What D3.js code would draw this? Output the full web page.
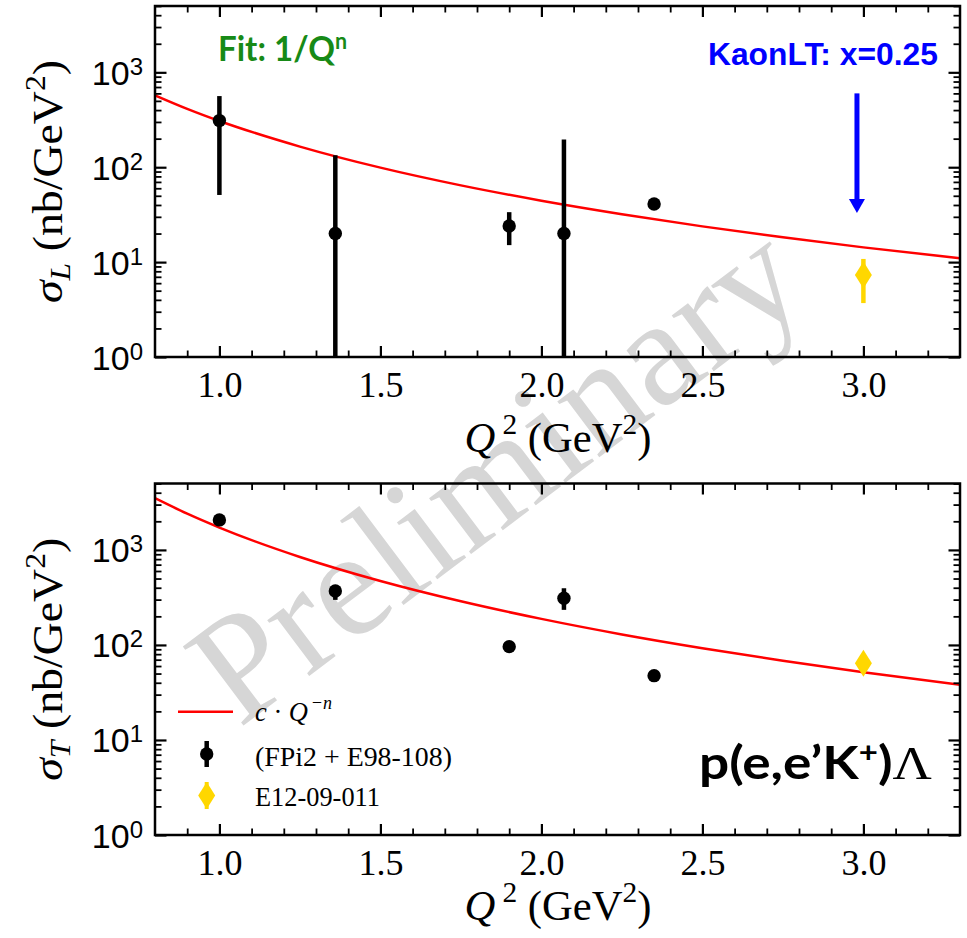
<!DOCTYPE html>
<html>
<head>
<meta charset="utf-8">
<script src="https://cdn.jsdelivr.net/npm/d3@7"></script>
<style>
  body { margin: 0; background: #fff; }
</style>
</head>
<body>
<div id="chart"></div>
<script>
// data

// FPi2 + E98-108 points (black)
var q2Old = [1.0, 1.36, 1.90, 2.07, 2.35];
var sigLOld = [310, 20, 24, 20, 41];
var sigLOldUp = [252, 114, 9.6, 176, 2];
var sigLOldDn = [259, 19.7, 8.9, 19.7, 2];
var sigTOld = [2070, 370, 96, 310, 47.5];
var sigTOldUp = [60, 58, 5, 85, 3];
var sigTOldDn = [60, 72, 5, 76, 3];

// E12-09-011 point (yellow)
var q2New = [3.0];
var sigLNew = [7.3];
var sigLNewUp = [3.5];
var sigLNewDn = [3.6];
var sigTNew = [64];
var sigTNewUp = [9];
var sigTNewDn = [8];

// fit curve c*Q^-n, read at a few Q2 values
var fitQ2 = [0.8, 0.9, 1.0, 1.25, 1.5, 1.75, 2.0, 2.25, 2.5, 2.75, 3.0, 3.3];
var fitL = [572, 412, 307, 165, 99, 64.4, 44.4, 32.0, 23.8, 18.3, 14.3, 11.0];
var fitT = [3500, 2404, 1718, 843, 471, 288, 188, 129, 92.4, 68.2, 51.7, 38.1];

// ticks
var xMajor = [1.0, 1.5, 2.0, 2.5, 3.0];
var xMinor = [0.9, 1.1, 1.2, 1.3, 1.4, 1.6, 1.7, 1.8, 1.9, 2.1, 2.2, 2.3, 2.4, 2.6, 2.7, 2.8, 2.9, 3.1, 3.2];
var yMajor = [1, 10, 100, 1000];
var yMinor = [];
[1, 10, 100, 1000].forEach(function (d) {
  for (var k = 2; k <= 9; k++) if (d * k <= 5000) yMinor.push(d * k);
});

var W = 967, H = 938;
var left = 155, right = 960;
var serif = "'Liberation Serif', 'Times New Roman', serif";
var sans = "'Liberation Sans', Arial, sans-serif";
var calib = "Lato, 'Open Sans', sans-serif";

var svg = d3.select("#chart").append("svg")
  .attr("width", W).attr("height", H);
svg.append("rect").attr("width", W).attr("height", H).attr("fill", "#fff");

var x = d3.scaleLinear().domain([0.8, 3.3]).range([left, right]);

// squeeze / stretch a text to a measured width
function fitWidth(t, w) {
  var bb = t.node().getBBox();
  t.attr("transform", "scale(" + (w / bb.width) + ",1)");
}

// watermark, behind everything
svg.append("text")
  .attr("transform", "translate(495,472) rotate(-37)")
  .attr("text-anchor", "middle")
  .attr("dominant-baseline", "central")
  .style("font-family", serif)
  .style("font-size", "152px")
  .attr("fill", "#d6d6d6")
  .text("Preliminary");

var panels = [
  { top: 6, bottom: 357, sub: "L", old: sigLOld, up: sigLOldUp, dn: sigLOldDn,
    nw: sigLNew, nwUp: sigLNewUp, nwDn: sigLNewDn, fit: fitL, xlab: 452 },
  { top: 483.5, bottom: 835, sub: "T", old: sigTOld, up: sigTOldUp, dn: sigTOldDn,
    nw: sigTNew, nwUp: sigTNewUp, nwDn: sigTNewDn, fit: fitT, xlab: 920 }
];

function diamond(cx, cy) {
  return "M" + cx + "," + (cy - 13.5) + "L" + (cx + 8.5) + "," + cy +
    "L" + cx + "," + (cy + 13.5) + "L" + (cx - 8.5) + "," + cy + "Z";
}

panels.forEach(function (p, i) {
  var y = d3.scaleLog().domain([1, 5000]).range([p.bottom, p.top]);
  var g = svg.append("g");

  g.append("clipPath").attr("id", "clip" + i)
    .append("rect")
    .attr("x", left).attr("y", p.top)
    .attr("width", right - left).attr("height", p.bottom - p.top);

  var plot = g.append("g").attr("clip-path", "url(#clip" + i + ")");

  // fit
  plot.append("path")
    .datum(d3.zip(fitQ2, p.fit))
    .attr("d", d3.line()
      .x(function (d) { return x(d[0]); })
      .y(function (d) { return y(d[1]); })
      .curve(d3.curveMonotoneX))
    .attr("fill", "none")
    .attr("stroke", "#ff0000")
    .attr("stroke-width", 2.5);

  // black points
  var idx = d3.range(q2Old.length);
  plot.selectAll(null).data(idx).join("line")
    .attr("x1", function (k) { return x(q2Old[k]); })
    .attr("x2", function (k) { return x(q2Old[k]); })
    .attr("y1", function (k) { return y(Math.max(p.old[k] - p.dn[k], 0.05)); })
    .attr("y2", function (k) { return y(p.old[k] + p.up[k]); })
    .attr("stroke", "#000")
    .attr("stroke-width", 4.5);
  plot.selectAll(null).data(idx).join("circle")
    .attr("cx", function (k) { return x(q2Old[k]); })
    .attr("cy", function (k) { return y(p.old[k]); })
    .attr("r", 6.7)
    .attr("fill", "#000");

  // yellow point
  var idn = d3.range(q2New.length);
  plot.selectAll(null).data(idn).join("line")
    .attr("x1", function (k) { return x(q2New[k]); })
    .attr("x2", function (k) { return x(q2New[k]); })
    .attr("y1", function (k) { return y(p.nw[k] - p.nwDn[k]); })
    .attr("y2", function (k) { return y(p.nw[k] + p.nwUp[k]); })
    .attr("stroke", "#ffd700")
    .attr("stroke-width", 4.5);
  plot.selectAll(null).data(idn).join("path")
    .attr("d", function (k) { return diamond(x(q2New[k]), y(p.nw[k])); })
    .attr("fill", "#ffd700");

  // ticks, inward on all four sides
  function tickStyle(a, w) {
    a.select(".domain").remove();
    a.selectAll(".tick line").attr("stroke", "#000").attr("stroke-width", w);
  }
  g.append("g").attr("transform", "translate(0," + p.bottom + ")")
    .call(d3.axisBottom(x).tickValues(xMinor).tickSize(-6.5).tickFormat(""))
    .call(tickStyle, 1.8);
  g.append("g").attr("transform", "translate(0," + p.top + ")")
    .call(d3.axisTop(x).tickValues(xMinor).tickSize(-6.5).tickFormat(""))
    .call(tickStyle, 1.8);
  g.append("g").attr("transform", "translate(0," + p.top + ")")
    .call(d3.axisTop(x).tickValues(xMajor).tickSize(-11).tickFormat(""))
    .call(tickStyle, 2.2);
  var xb = g.append("g").attr("transform", "translate(0," + p.bottom + ")")
    .call(d3.axisBottom(x).tickValues(xMajor).tickSize(-11).tickPadding(14)
      .tickFormat(d3.format(".1f")))
    .call(tickStyle, 2.2);
  xb.attr("font-family", null).attr("font-size", null);
  xb.selectAll(".tick text")
    .style("font-family", serif).style("font-size", "36px").attr("fill", "#000");

  [[d3.axisLeft, left, 1], [d3.axisRight, right, -1]].forEach(function (s) {
    g.append("g").attr("transform", "translate(" + s[1] + ",0)")
      .call(s[0](y).tickValues(yMinor).tickSize(-6.5).tickFormat(""))
      .call(tickStyle, 1.8);
    g.append("g").attr("transform", "translate(" + s[1] + ",0)")
      .call(s[0](y).tickValues(yMajor).tickSize(-11.5).tickFormat(""))
      .call(tickStyle, 2.2);
  });

  // y tick labels 10^k
  yMajor.forEach(function (v) {
    var t = g.append("text")
      .attr("x", 143).attr("y", y(v) + 12.5)
      .attr("text-anchor", "end")
      .style("font-family", sans).style("font-size", "34px");
    t.append("tspan").text("10");
    t.append("tspan").attr("dy", -10).style("font-size", "24px")
      .text(Math.round(Math.log10(v)));
  });

  // frame
  g.append("rect")
    .attr("x", left).attr("y", p.top)
    .attr("width", right - left).attr("height", p.bottom - p.top)
    .attr("fill", "none").attr("stroke", "#000").attr("stroke-width", 2.5);

  // x label
  var xl = g.append("g").attr("transform", "translate(558," + p.xlab + ")")
    .append("text").attr("text-anchor", "middle")
    .style("font-family", serif).style("font-size", "42px");
  xl.append("tspan").style("font-style", "italic").text("Q");
  xl.append("tspan").attr("dx", 7).attr("dy", -18).style("font-size", "29px").text("2");
  xl.append("tspan").attr("dy", 18).text(" (GeV");
  xl.append("tspan").attr("dy", -18).style("font-size", "29px").text("2");
  xl.append("tspan").attr("dy", 18).text(")");
  fitWidth(xl, 187);

  // y label
  var yl = g.append("g")
    .attr("transform", "translate(62," + ((p.top + p.bottom) / 2) + ") rotate(-90)")
    .append("text").attr("text-anchor", "middle")
    .style("font-family", serif).style("font-size", "42px");
  yl.append("tspan").style("font-style", "italic").text("σ");
  yl.append("tspan").style("font-style", "italic").style("font-size", "29px")
    .attr("dy", 8).text(p.sub);
  yl.append("tspan").attr("dy", -8).text(" (nb/GeV");
  yl.append("tspan").attr("dy", -17).style("font-size", "29px").text("2");
  yl.append("tspan").attr("dy", 17).text(")");
  fitWidth(yl, 243);

  p.y = y;
});

// annotations, top panel
var yL = panels[0].y;
var fitTxt = svg.append("g").attr("transform", "translate(218,61)")
  .append("text")
  .style("font-family", calib).style("font-weight", "bold").style("font-size", "34px")
  .attr("fill", "#178a17");
fitTxt.append("tspan").text("Fit: 1/Q");
fitTxt.append("tspan").attr("dy", -12).style("font-size", "22px").text("n");
fitWidth(fitTxt, 129);

var kaon = svg.append("g").attr("transform", "translate(708,65)")
  .append("text")
  .style("font-family", sans).style("font-weight", "bold").style("font-size", "31px")
  .attr("fill", "#0000ff")
  .text("KaonLT: x=0.25");
fitWidth(kaon, 230);

var ax = x(2.98);
svg.append("line")
  .attr("x1", ax).attr("x2", ax)
  .attr("y1", yL(600)).attr("y2", yL(33) - 12)
  .attr("stroke", "#0000ff").attr("stroke-width", 5);
svg.append("path")
  .attr("d", "M" + (ax - 8) + "," + (yL(33) - 14) + "L" + (ax + 8) + "," + (yL(33) - 14) +
    "L" + ax + "," + yL(33) + "Z")
  .attr("fill", "#0000ff");

// reaction label, bottom panel
var react = svg.append("g").attr("transform", "translate(699,779)")
  .append("text")
  .style("font-family", calib).style("font-weight", "bold").style("font-size", "45px")
  .attr("fill", "#000");
react.append("tspan").text("p(e,e’K");
react.append("tspan").attr("dy", -17).style("font-size", "28px").text("+");
react.append("tspan").attr("dy", 17).text(")");
react.append("tspan").style("font-family", serif).style("font-weight", "normal")
  .style("font-size", "46px").text("Λ");
fitWidth(react, 233);

// legend
var lg = svg.append("g");
lg.append("line")
  .attr("x1", 178).attr("x2", 233).attr("y1", 711.7).attr("y2", 711.7)
  .attr("stroke", "#ff0000").attr("stroke-width", 2.5);
lg.append("line")
  .attr("x1", 206.7).attr("x2", 206.7).attr("y1", 741).attr("y2", 767)
  .attr("stroke", "#000").attr("stroke-width", 4.5);
lg.append("circle").attr("cx", 206.7).attr("cy", 754).attr("r", 6.7).attr("fill", "#000");
lg.append("line")
  .attr("x1", 206.7).attr("x2", 206.7).attr("y1", 782).attr("y2", 809)
  .attr("stroke", "#ffd700").attr("stroke-width", 4);
lg.append("path").attr("d", diamond(206.7, 795.5)).attr("fill", "#ffd700");

var l1 = lg.append("g").attr("transform", "translate(255,721)")
  .append("text").style("font-family", serif).style("font-size", "28px");
l1.append("tspan").style("font-style", "italic").text("c");
l1.append("tspan").text(" · ");
l1.append("tspan").style("font-style", "italic").text("Q");
l1.append("tspan").attr("dx", 3).attr("dy", -12).style("font-style", "italic")
  .style("font-size", "19px").text("−n");
fitWidth(l1, 77);

var l2 = lg.append("g").attr("transform", "translate(255,766)")
  .append("text").style("font-family", serif).style("font-size", "28px")
  .text("(FPi2 + E98-108)");
fitWidth(l2, 197);

var l3 = lg.append("g").attr("transform", "translate(255,806)")
  .append("text").style("font-family", serif).style("font-size", "28px")
  .text("E12-09-011");
fitWidth(l3, 125);
</script>
</body>
</html>
